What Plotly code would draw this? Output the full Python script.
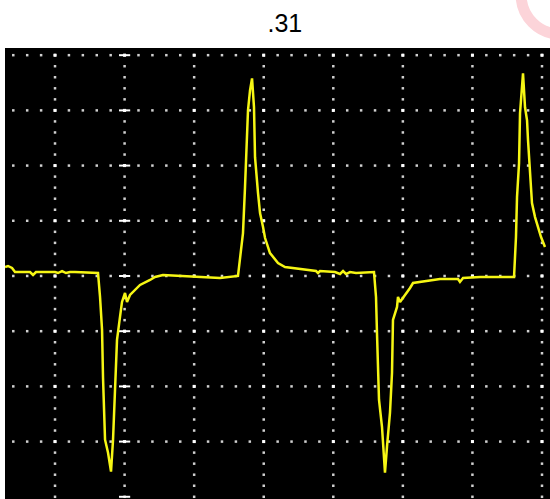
import numpy as np
import plotly.graph_objects as go

# Trace samples, in screen divisions (time div, volt div)
time_div = [-0.719, -0.676, -0.618, -0.575, -0.359, -0.316, -0.273, 0.000, 0.043, 0.101,
            0.158, 0.216, 0.287, 0.618, 0.647, 0.676, 0.690, 0.719, 0.762, 0.791,
            0.805, 0.834, 0.862, 0.891, 0.934, 0.963, 1.006, 1.035, 1.078, 1.222,
            1.366, 1.437, 1.552, 2.084, 2.372, 2.630, 2.659, 2.688, 2.702, 2.731,
            2.760, 2.774, 2.803, 2.832, 2.860, 2.875, 2.918, 2.947, 2.990, 3.019,
            3.090, 3.205, 3.306, 3.522, 3.752, 3.780, 3.809, 4.025, 4.097, 4.140,
            4.183, 4.240, 4.327, 4.585, 4.614, 4.628, 4.657, 4.700, 4.715, 4.743,
            4.772, 4.815, 4.844, 4.858, 4.916, 4.930, 4.959, 5.002, 5.103, 5.146,
            5.247, 5.534, 5.793, 5.821, 5.865, 6.109, 6.598, 6.612, 6.626, 6.641,
            6.670, 6.684, 6.713, 6.727, 6.756, 6.785, 6.799, 6.828, 6.856, 6.900,
            6.943, 6.986, 7.043]
volt_div = [0.163, 0.181, 0.145, 0.072, 0.072, 0.018, 0.072, 0.072, 0.054, 0.090,
            0.054, 0.072, 0.072, 0.054, -0.380, -0.976, -1.844, -2.966, -3.201, -3.508,
            -3.544, -2.966, -2.061, -1.157, -0.741, -0.470, -0.307, -0.470, -0.344, -0.163,
            -0.072, -0.018, 0.018, -0.018, -0.036, 0.000, 0.289, 0.651, 0.778, 1.609,
            2.459, 3.002, 3.363, 3.580, 3.056, 2.152, 1.501, 1.139, 0.886, 0.687,
            0.416, 0.235, 0.163, 0.127, 0.090, 0.054, 0.090, 0.072, 0.036, 0.090,
            0.036, 0.072, 0.054, 0.072, -0.380, -1.031, -2.242, -2.731, -3.092, -3.562,
            -3.092, -2.477, -1.754, -0.796, -0.561, -0.380, -0.470, -0.398, -0.217, -0.127,
            -0.108, -0.054, -0.054, -0.108, -0.036, -0.018, -0.018, 0.325, 0.705, 1.429,
            2.043, 2.948, 3.490, 3.671, 3.056, 2.821, 2.459, 1.971, 1.320, 1.067,
            0.886, 0.705, 0.524]

title_text = ".31"
x_range = [-0.719, 7.115]
y_range = [-4.04, 4.13]
v_lines = [0, 1, 2, 3, 4, 5, 6, 7]
h_lines = [-3, -2, -1, 0, 1, 2, 3, 4]
cross_line = 1
minor = 0.2

fig = go.Figure()

# dotted graticule
gx, gy = [], []
for h in h_lines:
    xs = np.arange(np.ceil(x_range[0] / minor) * minor, x_range[1], minor)
    gx += list(xs)
    gy += [h] * len(xs)
for v in v_lines:
    ys = np.arange(-4.0, 4.0 + 1e-9, minor)
    gx += [v] * len(ys)
    gy += list(ys)
fig.add_trace(go.Scatter(x=gx, y=gy, mode="markers",
                         marker=dict(symbol="square", size=2.5, color="#d0d0d0", line=dict(width=0)),
                         hoverinfo="skip", showlegend=False))
# intersections
ix = [v for v in v_lines for h in h_lines]
iy = [h for v in v_lines for h in h_lines]
fig.add_trace(go.Scatter(x=ix, y=iy, mode="markers",
                         marker=dict(symbol="square", size=3, color="#ffffff", line=dict(width=0)),
                         hoverinfo="skip", showlegend=False))
# crosses on marked vertical line
fig.add_trace(go.Scatter(x=[cross_line] * (len(h_lines) + 1), y=h_lines + [-4], mode="markers",
                         marker=dict(symbol="line-ew", size=8, line=dict(width=2, color="#ffffff")),
                         hoverinfo="skip", showlegend=False))

# signal
fig.add_trace(go.Scatter(x=time_div, y=volt_div, mode="lines",
                         line=dict(color="#f6f614", width=2.5),
                         hoverinfo="skip", showlegend=False))

fig.update_layout(
    width=550, height=499,
    margin=dict(l=5, r=0, t=48, b=0),
    paper_bgcolor="white", plot_bgcolor="black",
    title=dict(text=title_text, x=0.518, xanchor="center", y=1 - 23 / 499, yanchor="middle",
               yref="container", font=dict(family="Liberation Sans, Arial", size=25, color="black")),
    xaxis=dict(range=x_range, visible=False, showgrid=False, zeroline=False, fixedrange=True),
    yaxis=dict(range=y_range, visible=False, showgrid=False, zeroline=False, fixedrange=True),
    shapes=[dict(type="circle", xref="paper", yref="paper",
                 x0=0.947, x1=1.090, y0=1.031, y1=1.204,
                 line=dict(color="#fcd4d9", width=11), fillcolor="rgba(0,0,0,0)", layer="below")],
)

fig.write_html("out.html", config={"displayModeBar": False},
               post_script="document.body.style.margin='0';document.body.style.overflow='hidden';")
